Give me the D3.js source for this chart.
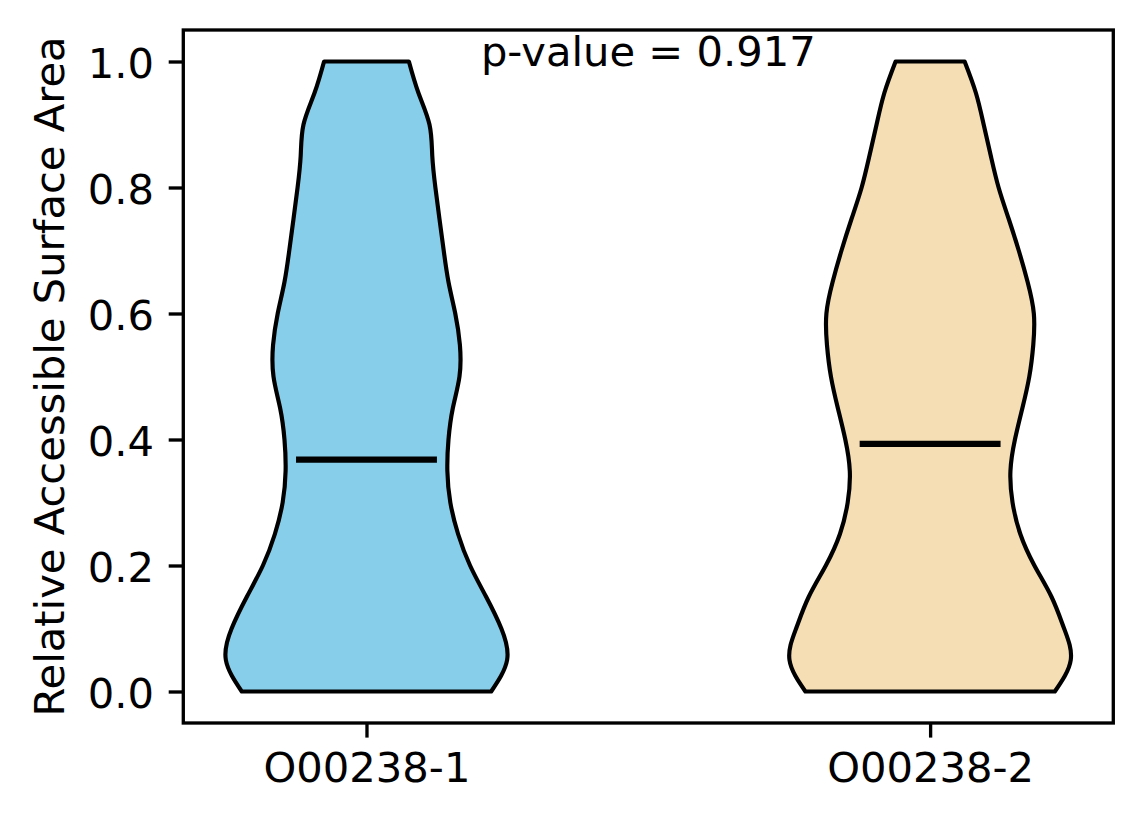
<!DOCTYPE html>
<html>
<head>
<meta charset="utf-8">
<script src="https://cdn.jsdelivr.net/npm/d3@7"></script>
<style>
  body { margin: 0; background: white; }
  text { font-family: "DejaVu Sans", sans-serif; }
</style>
</head>
<body>
<div id="violin"></div>
<script>
// categories and their fill colours
var groups = ["O00238-1", "O00238-2"];
var groupColors = ["#87CEEB", "#F5DEB3"];

// y levels where the violin width was read
var levels = [0.00, 0.05, 0.10, 0.15, 0.20, 0.25, 0.30, 0.35, 0.40, 0.45, 0.50,
              0.55, 0.60, 0.65, 0.70, 0.75, 0.80, 0.85, 0.90, 0.95, 1.00];

// relative density (max = 1) at each level
var density1 = [0.885, 0.998, 0.957, 0.850, 0.735, 0.650, 0.595, 0.574, 0.582, 0.613, 0.660,
                0.663, 0.630, 0.582, 0.548, 0.518, 0.489, 0.467, 0.447, 0.369, 0.301];
var density2 = [0.885, 0.998, 0.951, 0.862, 0.740, 0.640, 0.585, 0.570, 0.602, 0.655, 0.704,
                0.732, 0.736, 0.692, 0.629, 0.558, 0.486, 0.431, 0.380, 0.325, 0.245];

var medians = [0.368, 0.393];
var yTicks = [0.0, 0.2, 0.4, 0.6, 0.8, 1.0];
var pValueLabel = "p-value = 0.917";

var W = 1144, H = 824;
var margin = { top: 30, right: 30.7, bottom: 101, left: 183.3 };
var fs = 41.67;          // 10pt at 300 dpi
var tickLen = 14.6, tickPad = 14.6;

var svg = d3.select("#violin")
    .append("svg")
    .attr("width", W)
    .attr("height", H);

// positions 1 and 2, matplotlib style limits
var x = d3.scaleLinear()
    .domain([0.675, 2.325])
    .range([margin.left, W - margin.right]);

var y = d3.scaleLinear()
    .domain([-0.05, 1.05])
    .range([H - margin.bottom, margin.top]);

var halfWidth = 0.25;   // violin width 0.5

var densities = [density1, density2];

densities.forEach(function (dens, i) {
    var pos = i + 1;
    var pts = levels.map(function (v, j) { return { v: v, d: dens[j] }; });

    var area = d3.area()
        .y(function (d) { return y(d.v); })
        .x0(function (d) { return x(pos - d.d * halfWidth); })
        .x1(function (d) { return x(pos + d.d * halfWidth); })
        .curve(d3.curveNatural);

    svg.append("path")
        .datum(pts)
        .attr("d", area)
        .attr("fill", groupColors[i])
        .attr("stroke", "black")
        .attr("stroke-width", 4.17)
        .attr("stroke-linejoin", "round");

    // median line
    svg.append("line")
        .attr("x1", x(pos - halfWidth / 2))
        .attr("x2", x(pos + halfWidth / 2))
        .attr("y1", y(medians[i]))
        .attr("y2", y(medians[i]))
        .attr("stroke", "black")
        .attr("stroke-width", 6.25);
});

// frame
svg.append("rect")
    .attr("x", margin.left)
    .attr("y", margin.top)
    .attr("width", W - margin.left - margin.right)
    .attr("height", H - margin.top - margin.bottom)
    .attr("fill", "none")
    .attr("stroke", "black")
    .attr("stroke-width", 3.33);

// y axis
var yAxis = svg.append("g")
    .attr("transform", "translate(" + margin.left + ",0)")
    .call(d3.axisLeft(y)
        .tickValues(yTicks)
        .tickFormat(d3.format(".1f"))
        .tickSize(tickLen)
        .tickPadding(tickPad));
yAxis.select(".domain").remove();
yAxis.selectAll("line").attr("stroke-width", 3.33);
yAxis.selectAll("text")
    .attr("font-size", fs)
    .attr("font-family", "DejaVu Sans")
    .attr("dy", "0.39em");

// x axis
var xAxis = svg.append("g")
    .attr("transform", "translate(0," + (H - margin.bottom) + ")")
    .call(d3.axisBottom(x)
        .tickValues([1, 2])
        .tickFormat(function (d) { return groups[d - 1]; })
        .tickSize(tickLen)
        .tickPadding(tickPad));
xAxis.select(".domain").remove();
xAxis.selectAll("line").attr("stroke-width", 3.33);
xAxis.selectAll("text")
    .attr("font-size", fs)
    .attr("font-family", "DejaVu Sans")
    .attr("dy", "0.72em");

// y label
svg.append("text")
    .attr("transform", "translate(64," + (margin.top + (H - margin.top - margin.bottom) / 2) + ") rotate(-90)")
    .attr("text-anchor", "middle")
    .attr("font-size", fs)
    .text("Relative Accessible Surface Area");

// p-value annotation
svg.append("text")
    .attr("x", x(1.5))
    .attr("y", y(1.0) + 4)
    .attr("text-anchor", "middle")
    .attr("font-size", fs)
    .text(pValueLabel);
</script>
</body>
</html>
